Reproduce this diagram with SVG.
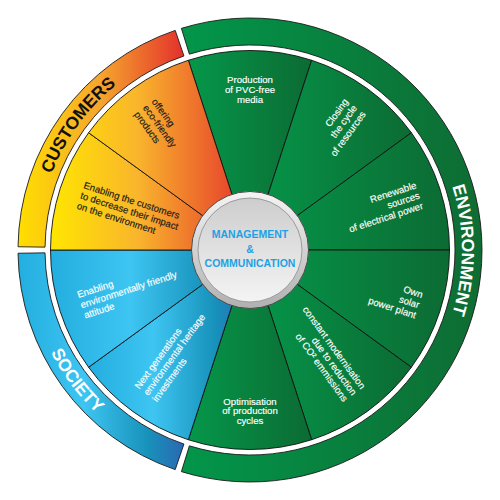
<svg xmlns="http://www.w3.org/2000/svg" width="500" height="500" viewBox="0 0 500 500">
<defs>
<linearGradient id="gCust" gradientUnits="userSpaceOnUse" x1="50" y1="0" x2="245" y2="0">
<stop offset="0" stop-color="#FFE600"/><stop offset="0.45" stop-color="#F9B52C"/><stop offset="1" stop-color="#E5392C"/>
</linearGradient>
<linearGradient id="gCustRing" x1="0" y1="0" x2="1" y2="0">
<stop offset="0" stop-color="#FFDF00"/><stop offset="0.5" stop-color="#F6A52E"/><stop offset="1" stop-color="#E3302B"/>
</linearGradient>
<linearGradient id="gSoc" x1="0" y1="0" x2="1" y2="0">
<stop offset="0" stop-color="#22AEDF"/><stop offset="0.4" stop-color="#3EC5F2"/><stop offset="0.78" stop-color="#1792BB"/><stop offset="1" stop-color="#2B68B2"/>
</linearGradient>
<linearGradient id="gGreen" x1="0" y1="0" x2="1" y2="0">
<stop offset="0" stop-color="#05974A"/><stop offset="1" stop-color="#0C6B33"/>
</linearGradient>
<linearGradient id="gGreenRing" x1="0" y1="0" x2="1" y2="0">
<stop offset="0" stop-color="#02964A"/><stop offset="1" stop-color="#0E6C33"/>
</linearGradient>
<linearGradient id="gHubOuter" x1="0" y1="0" x2="0" y2="1">
<stop offset="0" stop-color="#F4F4F4"/><stop offset="1" stop-color="#B0B0B0"/>
</linearGradient>
<linearGradient id="gHubInner" x1="0" y1="0" x2="0" y2="1">
<stop offset="0" stop-color="#CDCDCD"/><stop offset="1" stop-color="#F4F4F4"/>
</linearGradient>
<path id="pCust" d="M37.5,250 A212.5,212.5 0 0 1 184.33,47.90"/>
<path id="pEnv" d="M356,66.4 A212,212 0 0 1 356,433.6"/>
<path id="pSoc" d="M26,250 A224,224 0 0 0 188.26,465.32"/>
</defs>
<style>
.ring{stroke:#1a1a1a;stroke-width:0.9}
.wedge{stroke:#111;stroke-width:0.9}
.lbl{font-family:"Liberation Sans",Arial,sans-serif;font-size:9.6px;fill:#fff;stroke:#fff;stroke-width:0.15}
.dark{fill:#1a1a1a;stroke:#1a1a1a}
.big{font-family:"Liberation Sans",Arial,sans-serif;font-size:17.5px;font-weight:bold}
.hub{font-family:"Liberation Sans",Arial,sans-serif;font-size:10.5px;font-weight:bold;fill:#1DA1E4;text-anchor:middle}
</style>
<g id="rings">
<path id="ring-customers" class="ring" fill="url(#gCustRing)" d="M18.02,246.76 A232,232 0 0 1 175.23,30.38 L183.93,55.94 A205,205 0 0 0 45.02,247.14 Z"/>
<path id="ring-environment" class="ring" fill="url(#gGreenRing)" d="M181.40,28.37 A232,232 0 1 1 181.40,471.63 L189.38,445.83 A205,205 0 1 0 189.38,54.17 Z"/>
<path id="ring-society" class="ring" fill="url(#gSoc)" d="M175.23,469.62 A232,232 0 0 1 18.02,253.24 L45.02,252.86 A205,205 0 0 0 183.93,444.06 Z"/>
<text class="big" fill="#111"><textPath href="#pCust" startOffset="50%" text-anchor="middle">CUSTOMERS</textPath></text>
<text class="big" fill="#fff"><textPath href="#pEnv" startOffset="50%" text-anchor="middle">ENVIRONMENT</textPath></text>
<text class="big" fill="#fff"><textPath href="#pSoc" startOffset="50%" text-anchor="middle">SOCIETY</textPath></text>
</g>
<g id="wedges">
<g id="w-pvc">
<path class="wedge" fill="url(#gGreen)" d="M250,250 L188.35,60.26 A199.5,199.5 0 0 1 311.65,60.26 Z"/>
<text class="lbl" text-anchor="middle"><tspan x="250" y="82.5">Production</tspan><tspan x="250" y="92.7">of PVC-free</tspan><tspan x="250" y="102.7">media</tspan></text>
</g>
<g id="w-closing">
<path class="wedge" fill="url(#gGreen)" d="M250,250 L311.65,60.26 A199.5,199.5 0 0 1 411.40,132.74 Z"/>
<text class="lbl" text-anchor="end" transform="translate(354.63,105.99) rotate(-54)"><tspan x="0" y="-7.3">Closing</tspan><tspan x="0" y="3.5">the cycle</tspan><tspan x="0" y="14.3">of resources</tspan></text>
</g>
<g id="w-renewable">
<path class="wedge" fill="url(#gGreen)" d="M250,250 L411.40,132.74 A199.5,199.5 0 0 1 449.5,250 Z"/>
<text class="lbl" text-anchor="end" transform="translate(419.29,194.99) rotate(-18)"><tspan x="0" y="-7.3">Renewable</tspan><tspan x="0" y="3.5">sources</tspan><tspan x="0" y="14.3">of electrical power</tspan></text>
</g>
<g id="w-solar">
<path class="wedge" fill="url(#gGreen)" d="M250,250 L449.5,250 A199.5,199.5 0 0 1 411.40,367.26 Z"/>
<text class="lbl" text-anchor="end" transform="translate(419.29,305.01) rotate(18)"><tspan x="0" y="-7.3">Own</tspan><tspan x="0" y="3.5">solar</tspan><tspan x="0" y="14.3">power plant</tspan></text>
</g>
<g id="w-co2">
<path class="wedge" fill="url(#gGreen)" d="M250,250 L411.40,367.26 A199.5,199.5 0 0 1 311.65,439.74 Z"/>
<text class="lbl" text-anchor="end" transform="translate(354.63,394.01) rotate(54)"><tspan x="0" y="-7.3">constant modernisation</tspan><tspan x="0" y="3.5">due to reduction</tspan><tspan x="0" y="14.3">of CO² emmissions</tspan></text>
</g>
<g id="w-optim">
<path class="wedge" fill="url(#gGreen)" d="M250,250 L311.65,439.74 A199.5,199.5 0 0 1 188.35,439.74 Z"/>
<text class="lbl" text-anchor="middle"><tspan x="250" y="404.5">Optimisation</tspan><tspan x="250" y="414">of production</tspan><tspan x="250" y="423.5">cycles</tspan></text>
</g>
<g id="w-heritage">
<path class="wedge" fill="url(#gSoc)" d="M250,250 L188.35,439.74 A199.5,199.5 0 0 1 88.60,367.26 Z"/>
<text class="lbl" text-anchor="start" transform="translate(145.37,394.01) rotate(-54)"><tspan x="0" y="-7.3">Next generations</tspan><tspan x="0" y="3.5">environmental heritage</tspan><tspan x="0" y="14.3">investments</tspan></text>
</g>
<g id="w-attitude">
<path class="wedge" fill="url(#gSoc)" d="M250,250 L88.60,367.26 A199.5,199.5 0 0 1 50.5,250 Z"/>
<text class="lbl" text-anchor="start" transform="translate(80.71,305.01) rotate(-18)"><tspan x="0" y="-7.3">Enabling</tspan><tspan x="0" y="3.5">environmentally friendly</tspan><tspan x="0" y="14.3">attitude</tspan></text>
</g>
<g id="w-impact">
<path class="wedge" fill="url(#gCust)" d="M250,250 L50.5,250 A199.5,199.5 0 0 1 88.60,132.74 Z"/>
<text class="lbl dark" text-anchor="start" transform="translate(80.71,194.99) rotate(18)"><tspan x="0" y="-7.3">Enabling the customers</tspan><tspan x="0" y="3.5">to decrease their impact</tspan><tspan x="0" y="14.3">on the environment</tspan></text>
</g>
<g id="w-offering">
<path class="wedge" fill="url(#gCust)" d="M250,250 L88.60,132.74 A199.5,199.5 0 0 1 188.35,60.26 Z"/>
<text class="lbl dark" text-anchor="start" transform="translate(145.37,105.99) rotate(54)"><tspan x="0" y="-7.3">offering</tspan><tspan x="0" y="3.5">eco-friendly</tspan><tspan x="0" y="14.3">products</tspan></text>
</g>
</g>
<g id="hub">
<circle cx="250" cy="250" r="58.5" fill="url(#gHubOuter)" stroke="#4a4a4a" stroke-width="1"/>
<circle cx="250" cy="250" r="52" fill="url(#gHubInner)" stroke="#8a8a8a" stroke-width="0.8"/>
<text class="hub"><tspan x="250" y="238.3">MANAGEMENT</tspan><tspan x="250" y="253.3">&amp;</tspan><tspan x="250" y="266.7">COMMUNICATION</tspan></text>
</g>
</svg>
